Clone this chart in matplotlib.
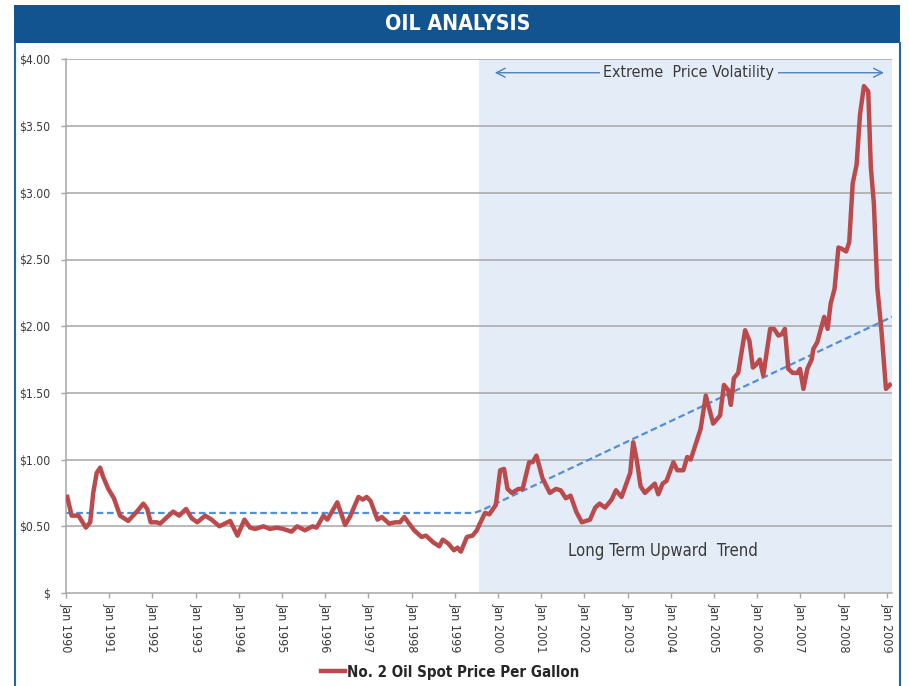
import matplotlib
matplotlib.use("Agg")
import matplotlib.pyplot as plt
from matplotlib.patches import Rectangle
from matplotlib.lines import Line2D

plt.rcParams['font.family'] = ['DejaVu Sans']
plt.rcParams['font.stretch'] = 'condensed'

# No. 2 oil spot price (decimal years, $ per gallon)
dates = [
    1990.03, 1990.13, 1990.29, 1990.46, 1990.56, 1990.63, 1990.71, 1990.79, 1990.86, 1990.98,
    1991.11, 1991.25, 1991.44, 1991.64, 1991.79, 1991.88, 1991.96, 1992.10, 1992.18, 1992.31,
    1992.48, 1992.62, 1992.78, 1992.91, 1993.04, 1993.22, 1993.37, 1993.55, 1993.80, 1993.97,
    1994.13, 1994.26, 1994.38, 1994.57, 1994.72, 1994.88, 1995.03, 1995.22, 1995.35, 1995.53,
    1995.71, 1995.80, 1995.96, 1996.05, 1996.19, 1996.28, 1996.46, 1996.57, 1996.77, 1996.87,
    1996.96, 1997.05, 1997.21, 1997.31, 1997.48, 1997.62, 1997.73, 1997.83, 1997.92, 1998.06,
    1998.23, 1998.33, 1998.50, 1998.64, 1998.72, 1998.85, 1998.98, 1999.06, 1999.14, 1999.28,
    1999.41, 1999.51, 1999.58, 1999.70, 1999.80, 1999.95, 2000.05, 2000.14, 2000.22, 2000.32,
    2000.47, 2000.57, 2000.72, 2000.80, 2000.89, 2001.03, 2001.20, 2001.34, 2001.45, 2001.57,
    2001.68, 2001.81, 2001.94, 2002.13, 2002.25, 2002.35, 2002.48, 2002.63, 2002.73, 2002.86,
    2003.06, 2003.13, 2003.21, 2003.30, 2003.40, 2003.63, 2003.71, 2003.81, 2003.90, 2004.06,
    2004.15, 2004.29, 2004.38, 2004.46, 2004.56, 2004.69, 2004.81, 2004.98, 2005.14, 2005.23,
    2005.33, 2005.39, 2005.46, 2005.56, 2005.72, 2005.82, 2005.90, 2005.97, 2006.06, 2006.14,
    2006.30, 2006.39, 2006.49, 2006.57, 2006.64, 2006.72, 2006.82, 2006.93, 2006.99, 2007.07,
    2007.16, 2007.26, 2007.30, 2007.39, 2007.55, 2007.63, 2007.70, 2007.79, 2007.88, 2007.96,
    2008.06, 2008.13, 2008.21, 2008.30, 2008.38, 2008.47, 2008.57, 2008.63, 2008.70, 2008.78,
    2008.88, 2008.98, 2009.07,
]
prices = [
    0.72, 0.58, 0.58, 0.49, 0.53, 0.75, 0.90, 0.94, 0.87, 0.78,
    0.71, 0.58, 0.54, 0.61, 0.67, 0.63, 0.53, 0.53, 0.52, 0.56,
    0.61, 0.58, 0.63, 0.56, 0.53, 0.58, 0.55, 0.50, 0.54, 0.43,
    0.55, 0.49, 0.48, 0.50, 0.48, 0.49, 0.48, 0.46, 0.50, 0.47,
    0.50, 0.49, 0.58, 0.55, 0.63, 0.68, 0.51, 0.57, 0.72, 0.70,
    0.72, 0.69, 0.55, 0.57, 0.52, 0.53, 0.53, 0.57, 0.53, 0.47,
    0.42, 0.43, 0.38, 0.35, 0.40, 0.37, 0.32, 0.34, 0.31, 0.42,
    0.43, 0.47, 0.52, 0.60, 0.59, 0.66, 0.92, 0.93, 0.78, 0.75,
    0.78, 0.78, 0.98, 0.98, 1.03, 0.86, 0.75, 0.78, 0.77, 0.71,
    0.73, 0.61, 0.53, 0.55, 0.64, 0.67, 0.64, 0.70, 0.77, 0.72,
    0.90, 1.13, 1.00, 0.80, 0.75, 0.82, 0.74, 0.82, 0.84, 0.98,
    0.92, 0.92, 1.02, 1.00, 1.10, 1.23, 1.48, 1.27, 1.33, 1.56,
    1.52, 1.41, 1.61, 1.65, 1.97, 1.89, 1.69, 1.71, 1.75, 1.63,
    1.98, 1.98, 1.93, 1.94, 1.98, 1.68, 1.65, 1.65, 1.68, 1.53,
    1.68, 1.75, 1.83, 1.88, 2.07, 1.98, 2.17, 2.28, 2.59, 2.58,
    2.56, 2.63, 3.07, 3.21, 3.59, 3.80, 3.76, 3.19, 2.92, 2.29,
    1.95, 1.53, 1.56,
]

# dashed long-term trend
trend_x = [1990.0, 1999.45, 1999.62, 2009.12]
trend_y = [0.60, 0.60, 0.62, 2.07]

volatile_start = 1999.56
x_end = 2009.12
years = list(range(1990, 2010))
year_labels = [f"Jan {y}" for y in years]
y_ticks = [0, 0.5, 1.0, 1.5, 2.0, 2.5, 3.0, 3.5, 4.0]
y_labels = ["$"] + [f"${v:.2f}" for v in y_ticks[1:]]

RED = "#BB4A4C"
TREND = "#558ED5"
SHADE = "#E4ECF7"
BAR = "#11548F"
GRID = "#A6A6A6"
TXT = "#3A3A3A"

W, H = 909, 686
fig = plt.figure(figsize=(W / 100, H / 100), dpi=100)

# title bar and panel frame
fig.add_artist(Rectangle((14 / W, 1 - 43 / H), 886 / W, 38 / H, transform=fig.transFigure,
                         facecolor=BAR, edgecolor="none"))
fig.text(458 / W, 1 - 24 / H, "OIL ANALYSIS", color="white", fontsize=15.3,
         fontweight="bold", ha="center", va="center")
for xp in (15, 900):
    fig.add_artist(Line2D([xp / W, xp / W], [0, 1 - 43 / H], transform=fig.transFigure,
                          color="#2563A8", lw=1.5))

ax = fig.add_axes([66 / W, 1 - 593 / H, (892 - 66) / W, (593 - 59.4) / H])
ax.axvspan(volatile_start, x_end, color=SHADE, lw=0, zorder=0)
for v in y_ticks[1:]:
    ax.axhline(v, color=GRID, lw=1.1, zorder=1)
ax.plot(trend_x, trend_y, color=TREND, lw=1.6, ls=(0, (3, 1.6)), zorder=2)
line, = ax.plot(dates, prices, color=RED, lw=3.2, zorder=3,
                label="No. 2 Oil Spot Price Per Gallon")

ax.set_xlim(1990, x_end)
ax.set_ylim(0, 4.0)
ax.set_xticks(years)
ax.set_xticklabels(year_labels, rotation=270, fontsize=9, color=TXT)
ax.set_yticks(y_ticks)
ax.set_yticklabels(y_labels, fontsize=8.7, color=TXT)
ax.tick_params(axis="both", colors=GRID, length=3.3, width=1, labelcolor=TXT)
ax.tick_params(axis="y", pad=8)
ax.tick_params(axis="x", pad=4)
for s in ("top", "right"):
    ax.spines[s].set_visible(False)
for s in ("left", "bottom"):
    ax.spines[s].set_color(GRID)
    ax.spines[s].set_linewidth(1.1)

# annotations
ax.annotate("", xy=(1999.86, 3.9), xytext=(2009.0, 3.9),
            arrowprops=dict(arrowstyle="<->", color="#4F81BD", lw=1, mutation_scale=16),
            zorder=4)
ax.text(2004.42, 3.9, "Extreme  Price Volatility", fontsize=11.5, color=TXT,
        ha="center", va="center", zorder=5,
        bbox=dict(facecolor=SHADE, edgecolor="none", pad=2.5))
ax.text(2003.82, 0.315, "Long Term Upward  Trend", fontsize=12, color=TXT,
        ha="center", va="center", zorder=5)

fig.legend(handles=[line], loc="center", bbox_to_anchor=(450 / W, 1 - 672 / H),
           frameon=False, handlelength=1.6, handletextpad=0.15,
           prop=dict(size=10.8, weight="bold"), labelcolor="#262626")

fig.savefig("out.png", dpi=100)
